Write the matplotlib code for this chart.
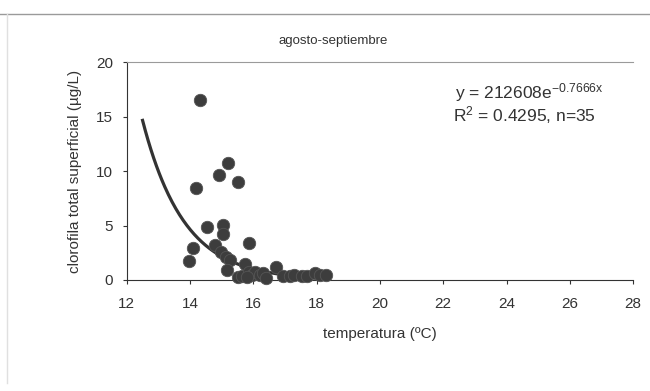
import numpy as np
import matplotlib
matplotlib.use("Agg")
import matplotlib.pyplot as plt

plt.rcParams['font.family'] = ['Liberation Sans', 'DejaVu Sans']
plt.rcParams['mathtext.default'] = 'regular'

# data
temperatura = [14.33, 15.21, 14.93, 15.53, 14.18, 14.52, 15.03, 15.05, 15.86, 14.08,
               13.98, 14.78, 14.97, 15.13, 15.25, 15.17, 15.73, 15.50, 15.65, 15.85,
               15.95, 16.05, 16.20, 16.30, 16.40, 16.71, 16.95, 17.15, 17.30, 17.55,
               17.70, 17.95, 18.10, 18.30, 15.80]
clorofila = [16.5, 10.7, 9.64, 9.03, 8.45, 4.9, 5.05, 4.2, 3.4, 2.95,
             1.7, 3.25, 2.6, 2.1, 1.8, 0.9, 1.5, 0.25, 0.4, 0.7,
             0.5, 0.7, 0.5, 0.6, 0.2, 1.2, 0.4, 0.35, 0.5, 0.4,
             0.4, 0.6, 0.5, 0.45, 0.3]
fit_a = 212608
fit_b = -0.7666
fit_x_start = 12.5
x_ticks = [12, 14, 16, 18, 20, 22, 24, 26, 28]
y_ticks = [0, 5, 10, 15, 20]

fig = plt.figure(figsize=(6.5, 3.91), dpi=100)
fig.patch.set_facecolor('white')

# outer frame lines (chart border)
fig.add_artist(plt.Line2D([0.0, 1.0], [0.963, 0.963], color='#9a9a9a', lw=1.0))
fig.add_artist(plt.Line2D([0.011, 0.011], [0.02, 0.963], color='#e0e0e0', lw=1.0))

ax = fig.add_axes([0.195, 0.284, 0.779, 0.557])
ax.set_xlim(12, 28)
ax.set_ylim(0, 20)
ax.set_xticks(x_ticks)
ax.set_yticks(y_ticks)

xs = np.linspace(fit_x_start, max(temperatura), 200)
ax.plot(xs, fit_a * np.exp(fit_b * xs), color='#333333', lw=2.3, zorder=2)
ax.scatter(temperatura, clorofila, s=80, color='#3d3d3d', edgecolors='#555555',
           linewidths=0.6, zorder=3, clip_on=False)

ax.spines['right'].set_visible(False)
ax.spines['top'].set_color('#9a9a9a')
ax.spines['left'].set_color('#333333')
ax.spines['bottom'].set_color('#333333')
ax.tick_params(axis='both', direction='out', length=3, width=0.8, colors='#333333',
               labelsize=11, labelcolor='#333333')
ax.tick_params(axis='x', pad=9)
ax.tick_params(axis='y', pad=7)

ax.set_xlabel('temperatura (ºC)', fontsize=11, color='#333333', labelpad=12)
ax.set_ylabel('clorofila total superficial (µg/L)', fontsize=11, color='#333333', labelpad=10)
fig.text(0.512, 0.895, 'agosto-septiembre', ha='center', va='center', fontsize=9.5,
         color='#333333')

ax.text(0.648, 0.862, r'y = 212608e$^{-0.7666x}$', transform=ax.transAxes,
        fontsize=12.5, color='#333333', va='center')
ax.text(0.644, 0.757, r'R$^{2}$ = 0.4295, n=35', transform=ax.transAxes,
        fontsize=12.5, color='#333333', va='center')

fig.savefig('out.png', dpi=100, facecolor='white')
